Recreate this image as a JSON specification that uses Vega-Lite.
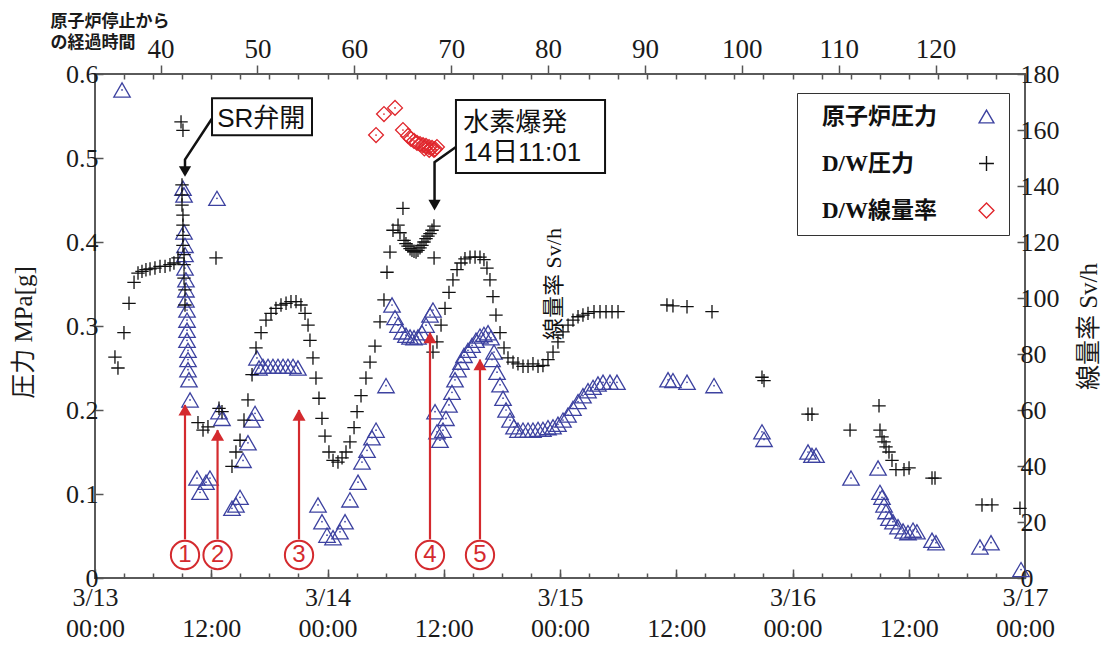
{
  "$schema": "https://vega.github.io/schema/vega-lite/v6.json",
  "width": 930,
  "height": 504,
  "autosize": {"type": "none"},
  "padding": {"left": 95, "top": 74, "right": 83, "bottom": 67},
  "background": "white",
  "config": {
    "view": {"stroke": "#5a5a5a", "strokeWidth": 2},
    "axis": {"domain": false, "grid": false, "tickColor": "#555555", "tickWidth": 1.5, "labelFont": "Liberation Serif", "labelFontSize": 26, "labelColor": "#1a1a1a", "titleColor": "#1a1a1a", "labelFlush": false, "labelOverlap": false}
  },
  "datasets": {
    "reactor": [
      {"t":2.79,"p":0.581},
      {"t":9.08,"p":0.464},{"t":9.19,"p":0.456},{"t":9.19,"p":0.412},{"t":9.29,"p":0.396},{"t":9.29,"p":0.385},{"t":9.29,"p":0.369},{"t":9.39,"p":0.355},{"t":9.39,"p":0.343},{"t":9.39,"p":0.331},{"t":9.5,"p":0.319},{"t":9.5,"p":0.307},{"t":9.5,"p":0.295},{"t":9.5,"p":0.283},{"t":9.6,"p":0.271},{"t":9.6,"p":0.26},{"t":9.6,"p":0.248},{"t":9.7,"p":0.236},{"t":9.81,"p":0.212},
      {"t":10.53,"p":0.119},{"t":10.84,"p":0.102},{"t":11.46,"p":0.114},{"t":11.87,"p":0.119},
      {"t":12.59,"p":0.452},{"t":12.8,"p":0.198},{"t":13.11,"p":0.19},
      {"t":14.14,"p":0.083},{"t":14.55,"p":0.087},{"t":14.97,"p":0.096},{"t":15.28,"p":0.14},{"t":15.79,"p":0.161},{"t":16.21,"p":0.188},{"t":16.52,"p":0.196},{"t":16.72,"p":0.262},{"t":16.93,"p":0.25},{"t":17.34,"p":0.252},{"t":17.86,"p":0.252},{"t":18.37,"p":0.252},{"t":18.89,"p":0.252},{"t":19.41,"p":0.252},{"t":19.92,"p":0.252},{"t":20.44,"p":0.252},{"t":20.95,"p":0.25},
      {"t":23.02,"p":0.087},{"t":23.43,"p":0.067},{"t":23.95,"p":0.051},{"t":24.57,"p":0.048},{"t":25.29,"p":0.055},{"t":25.81,"p":0.067},{"t":26.32,"p":0.093},{"t":27.15,"p":0.114},{"t":27.56,"p":0.138},{"t":28.08,"p":0.152},{"t":28.59,"p":0.167},{"t":29.01,"p":0.176},{"t":30.04,"p":0.229},
      {"t":30.66,"p":0.325},{"t":30.97,"p":0.31},{"t":31.28,"p":0.301},{"t":31.69,"p":0.293},{"t":32.1,"p":0.289},{"t":32.52,"p":0.287},{"t":32.93,"p":0.286},{"t":33.34,"p":0.287},{"t":33.75,"p":0.292},{"t":34.17,"p":0.301},{"t":34.58,"p":0.313},{"t":34.89,"p":0.319},
      {"t":35.1,"p":0.198},{"t":35.3,"p":0.174},{"t":35.61,"p":0.164},{"t":35.92,"p":0.176},{"t":36.23,"p":0.19},{"t":36.54,"p":0.206},{"t":36.85,"p":0.221},{"t":37.16,"p":0.236},{"t":37.47,"p":0.248},{"t":37.78,"p":0.257},{"t":38.09,"p":0.265},{"t":38.5,"p":0.271},{"t":38.92,"p":0.277},{"t":39.33,"p":0.283},{"t":39.74,"p":0.288},{"t":40.15,"p":0.29},{"t":40.57,"p":0.292},{"t":40.88,"p":0.286},{"t":40.98,"p":0.26},{"t":41.19,"p":0.269},{"t":41.5,"p":0.245},{"t":41.81,"p":0.23},{"t":42.12,"p":0.214},{"t":42.43,"p":0.2},{"t":42.84,"p":0.188},{"t":43.25,"p":0.18},{"t":43.66,"p":0.176},{"t":44.18,"p":0.176},{"t":44.7,"p":0.176},{"t":45.21,"p":0.176},{"t":45.73,"p":0.177},{"t":46.24,"p":0.177},{"t":46.76,"p":0.179},{"t":47.28,"p":0.18},{"t":47.79,"p":0.183},{"t":48.31,"p":0.188},{"t":48.83,"p":0.194},{"t":49.34,"p":0.202},{"t":49.86,"p":0.21},{"t":50.37,"p":0.217},{"t":50.89,"p":0.223},{"t":51.41,"p":0.227},{"t":51.92,"p":0.231},{"t":52.44,"p":0.233},{"t":53.16,"p":0.233},{"t":53.88,"p":0.233},
      {"t":59.15,"p":0.236},{"t":59.66,"p":0.235},{"t":61.11,"p":0.233},{"t":63.9,"p":0.229},{"t":68.85,"p":0.174},{"t":69.06,"p":0.165},{"t":73.6,"p":0.15},{"t":74.01,"p":0.146},{"t":74.43,"p":0.146},{"t":78.04,"p":0.119},
      {"t":80.83,"p":0.131},{"t":81.03,"p":0.102},{"t":81.24,"p":0.096},{"t":81.45,"p":0.087},{"t":81.65,"p":0.079},{"t":81.96,"p":0.071},{"t":82.37,"p":0.067},{"t":82.89,"p":0.061},{"t":83.41,"p":0.056},{"t":83.92,"p":0.054},{"t":84.44,"p":0.057},{"t":84.85,"p":0.055},{"t":86.4,"p":0.045},{"t":86.81,"p":0.042},{"t":91.35,"p":0.037},{"t":92.49,"p":0.042},{"t":95.59,"p":0.01}
    ],
    "dw": [
      {"t":2.06,"p":0.263},{"t":2.37,"p":0.25},{"t":2.99,"p":0.292},{"t":3.51,"p":0.327},{"t":4.03,"p":0.352},{"t":4.44,"p":0.363},{"t":4.85,"p":0.365},{"t":5.26,"p":0.367},{"t":5.68,"p":0.368},{"t":6.19,"p":0.369},{"t":6.71,"p":0.371},{"t":7.23,"p":0.371},{"t":7.74,"p":0.373},{"t":8.15,"p":0.375},{"t":8.57,"p":0.381},
      {"t":8.88,"p":0.543},{"t":9.08,"p":0.533},{"t":8.98,"p":0.468},{"t":8.98,"p":0.456},{"t":8.98,"p":0.444},{"t":9.08,"p":0.432},{"t":9.08,"p":0.42},{"t":9.08,"p":0.408},{"t":9.08,"p":0.396},{"t":9.19,"p":0.385},{"t":9.19,"p":0.373},{"t":9.19,"p":0.357},{"t":9.29,"p":0.343},{"t":9.29,"p":0.325},
      {"t":10.63,"p":0.185},{"t":11.15,"p":0.176},{"t":11.66,"p":0.18},{"t":12.49,"p":0.381},{"t":12.8,"p":0.202},{"t":13.11,"p":0.198},
      {"t":14.14,"p":0.133},{"t":14.55,"p":0.15},{"t":14.97,"p":0.164},{"t":15.38,"p":0.188},{"t":15.79,"p":0.212},{"t":16.21,"p":0.242},{"t":16.62,"p":0.274},{"t":17.14,"p":0.292},{"t":17.65,"p":0.307},{"t":18.17,"p":0.315},{"t":18.68,"p":0.321},{"t":19.2,"p":0.325},{"t":19.72,"p":0.327},{"t":20.23,"p":0.329},{"t":20.75,"p":0.329},{"t":21.26,"p":0.325},{"t":21.68,"p":0.315},{"t":21.99,"p":0.301},{"t":22.19,"p":0.283},{"t":22.5,"p":0.262},{"t":22.81,"p":0.238},{"t":23.12,"p":0.214},{"t":23.43,"p":0.19},{"t":23.74,"p":0.169},{"t":24.15,"p":0.15},{"t":24.57,"p":0.14},{"t":25.08,"p":0.138},{"t":25.5,"p":0.143},{"t":25.91,"p":0.15},{"t":26.32,"p":0.162},{"t":26.74,"p":0.179},{"t":27.05,"p":0.198},{"t":27.46,"p":0.217},{"t":27.97,"p":0.238},{"t":28.39,"p":0.257},{"t":28.9,"p":0.276},{"t":29.42,"p":0.305},{"t":29.83,"p":0.331},{"t":30.14,"p":0.364},{"t":30.45,"p":0.388},{"t":30.76,"p":0.414},{"t":31.28,"p":0.42},{"t":31.79,"p":0.44},{"t":31.48,"p":0.411},{"t":31.9,"p":0.402},{"t":32.1,"p":0.398},{"t":32.31,"p":0.395},{"t":32.52,"p":0.392},{"t":32.72,"p":0.39},{"t":32.93,"p":0.389},{"t":33.14,"p":0.388},{"t":33.34,"p":0.39},{"t":33.55,"p":0.393},{"t":33.75,"p":0.396},{"t":33.96,"p":0.4},{"t":34.17,"p":0.404},{"t":34.37,"p":0.407},{"t":34.58,"p":0.41},{"t":34.79,"p":0.414},{"t":34.99,"p":0.419},
      {"t":35.0,"p":0.381},{"t":34.89,"p":0.269},{"t":35.3,"p":0.281},{"t":35.72,"p":0.301},{"t":36.13,"p":0.321},{"t":36.54,"p":0.34},{"t":36.95,"p":0.355},{"t":37.37,"p":0.367},{"t":37.78,"p":0.375},{"t":38.19,"p":0.38},{"t":38.71,"p":0.382},{"t":39.23,"p":0.382},{"t":39.74,"p":0.382},{"t":40.15,"p":0.379},{"t":40.46,"p":0.369},{"t":40.77,"p":0.355},{"t":41.08,"p":0.335},{"t":41.39,"p":0.313},{"t":41.81,"p":0.292},{"t":42.22,"p":0.274},{"t":42.63,"p":0.262},{"t":43.15,"p":0.257},{"t":43.66,"p":0.255},{"t":44.18,"p":0.252},{"t":44.7,"p":0.252},{"t":45.21,"p":0.255},{"t":45.73,"p":0.252},{"t":46.24,"p":0.253},{"t":46.76,"p":0.26},{"t":47.28,"p":0.269},{"t":47.79,"p":0.281},{"t":48.31,"p":0.293},{"t":48.83,"p":0.301},{"t":49.34,"p":0.307},{"t":49.86,"p":0.311},{"t":50.37,"p":0.313},{"t":50.89,"p":0.315},{"t":51.51,"p":0.317},{"t":52.13,"p":0.317},{"t":52.75,"p":0.317},{"t":53.37,"p":0.317},{"t":53.99,"p":0.317},
      {"t":59.04,"p":0.325},{"t":59.66,"p":0.324},{"t":61.11,"p":0.323},{"t":63.69,"p":0.317},{"t":68.85,"p":0.239},{"t":69.06,"p":0.235},{"t":73.6,"p":0.195},{"t":74.01,"p":0.195},{"t":77.94,"p":0.176},{"t":80.93,"p":0.205},{"t":81.03,"p":0.176},{"t":81.24,"p":0.168},{"t":81.45,"p":0.162},{"t":81.65,"p":0.156},{"t":81.96,"p":0.15},{"t":82.27,"p":0.14},{"t":82.68,"p":0.129},{"t":83.51,"p":0.129},{"t":84.03,"p":0.131},{"t":86.4,"p":0.119},{"t":86.71,"p":0.119},{"t":91.56,"p":0.087},{"t":92.59,"p":0.087},{"t":95.48,"p":0.083}
    ],
    "dose": [
      {"t":29.01,"v":158.2},{"t":29.83,"v":165.7},{"t":30.97,"v":167.9},{"t":31.79,"v":160},{"t":32.31,"v":157.9},{"t":32.62,"v":156.8},{"t":32.93,"v":156.1},{"t":33.24,"v":155.4},{"t":33.55,"v":155},{"t":33.86,"v":154.6},{"t":34.17,"v":154.3},{"t":34.48,"v":153.9},{"t":34.79,"v":153.6},{"t":35.1,"v":153.2},{"t":35.3,"v":153.9},{"t":34.99,"v":152.9},{"t":34.5,"v":152.9},{"t":34.0,"v":153.4}
    ],
    "boxes": [
      {"t":12.08,"t2":22.4,"p":0.571,"p2":0.527},
      {"t":37.26,"t2":52.65,"p":0.569,"p2":0.482}
    ],
    "boxtext": [
      {"t":12.62,"p":0.546,"label":"SR弁開"},
      {"t":38.0,"p":0.542,"label":"水素爆発"},
      {"t":38.0,"p":0.5065,"label":"14日11:01"}
    ],
    "blackarrows": [
      {"g":"sr","o":1,"t":12.08,"p":0.547},{"g":"sr","o":2,"t":9.29,"p":0.498},{"g":"sr","o":3,"t":9.29,"p":0.482},
      {"g":"h2","o":1,"t":37.26,"p":0.513},{"g":"h2","o":2,"t":35.05,"p":0.495},{"g":"h2","o":3,"t":35.05,"p":0.443}
    ],
    "blackheads": [
      {"t":9.29,"p":0.478},{"t":35.05,"p":0.438}
    ],
    "redarrows": [
      {"n":"1","t":9.29,"p":0.046,"p2":0.206},
      {"n":"2","t":12.65,"p":0.046,"p2":0.176},
      {"n":"3","t":21.06,"p":0.046,"p2":0.2},
      {"n":"4","t":34.58,"p":0.046,"p2":0.292},
      {"n":"5","t":39.74,"p":0.046,"p2":0.26}
    ],
    "circles": [
      {"n":"1","t":9.29,"p":0.0274},
      {"n":"2","t":12.65,"p":0.0274},
      {"n":"3","t":21.06,"p":0.0274},
      {"n":"4","t":34.58,"p":0.0274},
      {"n":"5","t":39.74,"p":0.0274}
    ],
    "stray": [
      {"t":47.4,"p":0.35,"label":"線量率 Sv/h"}
    ]
  },
  "layer": [
    {
      "data": {"values": [{"t": 0}]},
      "mark": {"type": "point", "opacity": 0},
      "encoding": {
        "x": {"field": "t", "type": "quantitative", "scale": {"domain": [0, 96], "nice": false, "zero": false},
          "axis": {"orient": "bottom", "values": [0,3,6,9,12,15,18,21,24,27,30,33,36,39,42,45,48,51,54,57,60,63,66,69,72,75,78,81,84,87,90,93,96], "labels": false, "tickSize": -5, "title": null}}
      }
    },
    {
      "data": {"values": [{"t": 0}]},
      "mark": {"type": "point", "opacity": 0},
      "encoding": {
        "x": {"field": "t", "type": "quantitative", "scale": {"domain": [0, 96], "nice": false, "zero": false},
          "axis": {"orient": "bottom", "values": [0,12,24,36,48,60,72,84,96], "tickSize": -9, "labelPadding": 15, "labelBaseline": "top", "labelLineHeight": 31,
            "labelExpr": "datum.value % 24 == 0 ? ['3/' + (13 + datum.value / 24), '00:00'] : ['', '12:00']", "title": null}}
      }
    },
    {
      "data": {"values": [{"t": 0}]},
      "mark": {"type": "point", "opacity": 0},
      "encoding": {
        "x": {"field": "t", "type": "quantitative", "scale": {"domain": [0, 96], "nice": false, "zero": false},
          "axis": {"orient": "top", "values": [0,3,6,9,12,15,18,21,24,27,30,33,36,39,42,45,48,51,54,57,60,63,66,69,72,75,78,81,84,87,90,93,96], "labels": false, "tickSize": -5, "title": null}}
      }
    },
    {
      "data": {"values": [{"h": 40}]},
      "mark": {"type": "point", "opacity": 0},
      "encoding": {
        "x": {"field": "h", "type": "quantitative", "scale": {"domain": [33.2333, 129.2333], "nice": false, "zero": false},
          "axis": {"orient": "top", "values": [40,50,60,70,80,90,100,110,120], "format": "d", "tickSize": 9, "labelPadding": 2, "labelFontSize": 27,
            "title": ["原子炉停止から", "の経過時間"], "titleFont": "Noto Sans CJK JP", "titleFontWeight": "bold", "titleFontSize": 17, "titleLineHeight": 21,
            "titleX": -45, "titleY": -61, "titleAlign": "left", "titleBaseline": "top", "titleAngle": 0}}
      }
    },
    {
      "layer": [
        {
          "encoding": {
            "x": {"field": "t", "type": "quantitative", "scale": {"domain": [0, 96], "nice": false, "zero": false}, "axis": null},
            "y": {"field": "p", "type": "quantitative", "scale": {"domain": [0, 0.6], "nice": false, "zero": false},
              "axis": {"orient": "left", "values": [0,0.1,0.2,0.3,0.4,0.5,0.6], "tickSize": -8, "labelPadding": 5,
                "labelExpr": "datum.value == 0 ? '0' : format(datum.value, '.1f')",
                "title": "圧力 MPa[g]", "titleFont": "Liberation Serif, Noto Sans CJK JP", "titleFontSize": 25, "titleFontWeight": "normal",
                "titleX": -72, "titleY": 258, "titleAngle": 270, "titleAlign": "center", "titleBaseline": "middle"}}
          },
          "layer": [
            {
              "data": {"name": "reactor"},
              "mark": {"type": "point", "filled": false, "strokeWidth": 1.3, "size": 270, "opacity": 1},
              "encoding": {
                "color": {"datum": "原子炉圧力", "type": "nominal",
                  "scale": {"domain": ["原子炉圧力", "D/W圧力", "D/W線量率"], "range": ["#3d42a0", "#111111", "#e0262c"]},
                  "legend": {"title": null, "orient": "none", "legendX": 702, "legendY": 19, "direction": "vertical", "padding": 12, "strokeColor": "#333333", "fillColor": "white", "symbolOffset": 166, "labelOffset": -176, "labelFont": "Liberation Serif, Noto Sans CJK JP", "labelFontSize": 23, "labelFontWeight": "bold", "labelColor": "#111111", "rowPadding": 23, "symbolSize": 220, "symbolStrokeWidth": 1.4, "labelLimit": 220}},
                "shape": {"datum": "原子炉圧力", "type": "nominal",
                  "scale": {"domain": ["原子炉圧力", "D/W圧力", "D/W線量率"], "range": ["triangle-up", "M-1,0L1,0M0,-1L0,1", "diamond"]},
                  "legend": {"title": null, "orient": "none", "legendX": 702, "legendY": 19, "direction": "vertical", "padding": 12, "strokeColor": "#333333", "fillColor": "white", "symbolOffset": 166, "labelOffset": -176, "labelFont": "Liberation Serif, Noto Sans CJK JP", "labelFontSize": 23, "labelFontWeight": "bold", "labelColor": "#111111", "rowPadding": 23, "symbolSize": 220, "symbolStrokeWidth": 1.4, "labelLimit": 220}}
              }
            },
            {
              "data": {"name": "reactor"},
              "mark": {"type": "point", "filled": true, "size": 3, "color": "#3d42a0", "opacity": 1}
            },
            {
              "data": {"name": "dw"},
              "mark": {"type": "point", "filled": false, "strokeWidth": 1.3, "size": 180, "opacity": 1},
              "encoding": {
                "color": {"datum": "D/W圧力", "type": "nominal",
                  "scale": {"domain": ["原子炉圧力", "D/W圧力", "D/W線量率"], "range": ["#3d42a0", "#111111", "#e0262c"]},
                  "legend": {"title": null, "orient": "none", "legendX": 702, "legendY": 19, "direction": "vertical", "padding": 12, "strokeColor": "#333333", "fillColor": "white", "symbolOffset": 166, "labelOffset": -176, "labelFont": "Liberation Serif, Noto Sans CJK JP", "labelFontSize": 23, "labelFontWeight": "bold", "labelColor": "#111111", "rowPadding": 23, "symbolSize": 220, "symbolStrokeWidth": 1.4, "labelLimit": 220}},
                "shape": {"datum": "D/W圧力", "type": "nominal",
                  "scale": {"domain": ["原子炉圧力", "D/W圧力", "D/W線量率"], "range": ["triangle-up", "M-1,0L1,0M0,-1L0,1", "diamond"]},
                  "legend": {"title": null, "orient": "none", "legendX": 702, "legendY": 19, "direction": "vertical", "padding": 12, "strokeColor": "#333333", "fillColor": "white", "symbolOffset": 166, "labelOffset": -176, "labelFont": "Liberation Serif, Noto Sans CJK JP", "labelFontSize": 23, "labelFontWeight": "bold", "labelColor": "#111111", "rowPadding": 23, "symbolSize": 220, "symbolStrokeWidth": 1.4, "labelLimit": 220}}
              }
            },
            {
              "data": {"name": "stray"},
              "mark": {"type": "text", "angle": 270, "font": "Liberation Serif, Noto Sans CJK JP", "fontSize": 22, "color": "#111111", "align": "center", "baseline": "middle"},
              "encoding": {"text": {"field": "label"}}
            },
            {
              "data": {"name": "boxes"},
              "mark": {"type": "rect", "fill": "white", "stroke": "#111111", "strokeWidth": 2},
              "encoding": {"x2": {"field": "t2"}, "y2": {"field": "p2"}}
            },
            {
              "data": {"name": "boxtext"},
              "mark": {"type": "text", "align": "left", "baseline": "middle", "font": "Liberation Sans, Noto Sans CJK JP", "fontSize": 26, "color": "#111111"},
              "encoding": {"text": {"field": "label"}}
            },
            {
              "data": {"name": "blackarrows"},
              "mark": {"type": "line", "color": "#111111", "strokeWidth": 2.5},
              "encoding": {"detail": {"field": "g"}, "order": {"field": "o"}}
            },
            {
              "data": {"name": "blackheads"},
              "mark": {"type": "point", "shape": "triangle-down", "filled": true, "size": 150, "color": "#111111", "opacity": 1, "yOffset": -5}
            },
            {
              "data": {"name": "redarrows"},
              "mark": {"type": "rule", "color": "#d42a2e", "strokeWidth": 2.2},
              "encoding": {"y2": {"field": "p2"}}
            },
            {
              "data": {"name": "redarrows"},
              "mark": {"type": "point", "shape": "triangle-up", "filled": true, "size": 170, "color": "#d42a2e", "opacity": 1, "yOffset": 5},
              "encoding": {"y": {"field": "p2", "type": "quantitative"}}
            },
            {
              "data": {"name": "circles"},
              "mark": {"type": "point", "shape": "circle", "filled": false, "size": 800, "color": "#d42a2e", "strokeWidth": 2, "opacity": 1},
              "encoding": {}
            },
            {
              "data": {"name": "circles"},
              "mark": {"type": "text", "font": "Liberation Sans", "fontSize": 24, "color": "#d42a2e", "align": "center", "baseline": "middle"},
              "encoding": {"text": {"field": "n"}}
            }
          ]
        },
        {
          "data": {"name": "dose"},
          "layer": [
            {
              "mark": {"type": "point", "filled": false, "strokeWidth": 1.3, "size": 220, "opacity": 1},
              "encoding": {
                "x": {"field": "t", "type": "quantitative", "axis": null},
                "y": {"field": "v", "type": "quantitative", "scale": {"domain": [0, 180], "nice": false, "zero": false},
                  "axis": {"orient": "right", "values": [0,20,40,60,80,100,120,140,160,180], "tickSize": -8, "labelPadding": 3,
                    "title": "線量率 Sv/h", "titleFont": "Liberation Serif, Noto Sans CJK JP", "titleFontSize": 25, "titleFontWeight": "normal",
                    "titleX": 63, "titleY": 252, "titleAngle": 270, "titleAlign": "center", "titleBaseline": "middle"}},
                "color": {"datum": "D/W線量率", "type": "nominal",
                  "scale": {"domain": ["原子炉圧力", "D/W圧力", "D/W線量率"], "range": ["#3d42a0", "#111111", "#e0262c"]},
                  "legend": {"title": null, "orient": "none", "legendX": 702, "legendY": 19, "direction": "vertical", "padding": 12, "strokeColor": "#333333", "fillColor": "white", "symbolOffset": 166, "labelOffset": -176, "labelFont": "Liberation Serif, Noto Sans CJK JP", "labelFontSize": 23, "labelFontWeight": "bold", "labelColor": "#111111", "rowPadding": 23, "symbolSize": 220, "symbolStrokeWidth": 1.4, "labelLimit": 220}},
                "shape": {"datum": "D/W線量率", "type": "nominal",
                  "scale": {"domain": ["原子炉圧力", "D/W圧力", "D/W線量率"], "range": ["triangle-up", "M-1,0L1,0M0,-1L0,1", "diamond"]},
                  "legend": {"title": null, "orient": "none", "legendX": 702, "legendY": 19, "direction": "vertical", "padding": 12, "strokeColor": "#333333", "fillColor": "white", "symbolOffset": 166, "labelOffset": -176, "labelFont": "Liberation Serif, Noto Sans CJK JP", "labelFontSize": 23, "labelFontWeight": "bold", "labelColor": "#111111", "rowPadding": 23, "symbolSize": 220, "symbolStrokeWidth": 1.4, "labelLimit": 220}}
              }
            },
            {
              "mark": {"type": "point", "filled": true, "size": 3, "color": "#e0262c", "opacity": 1},
              "encoding": {
                "x": {"field": "t", "type": "quantitative", "axis": null},
                "y": {"field": "v", "type": "quantitative"}
              }
            }
          ]
        }
      ],
      "resolve": {"scale": {"y": "independent"}}
    }
  ],
  "resolve": {"scale": {"x": "independent", "y": "independent"}}
}
